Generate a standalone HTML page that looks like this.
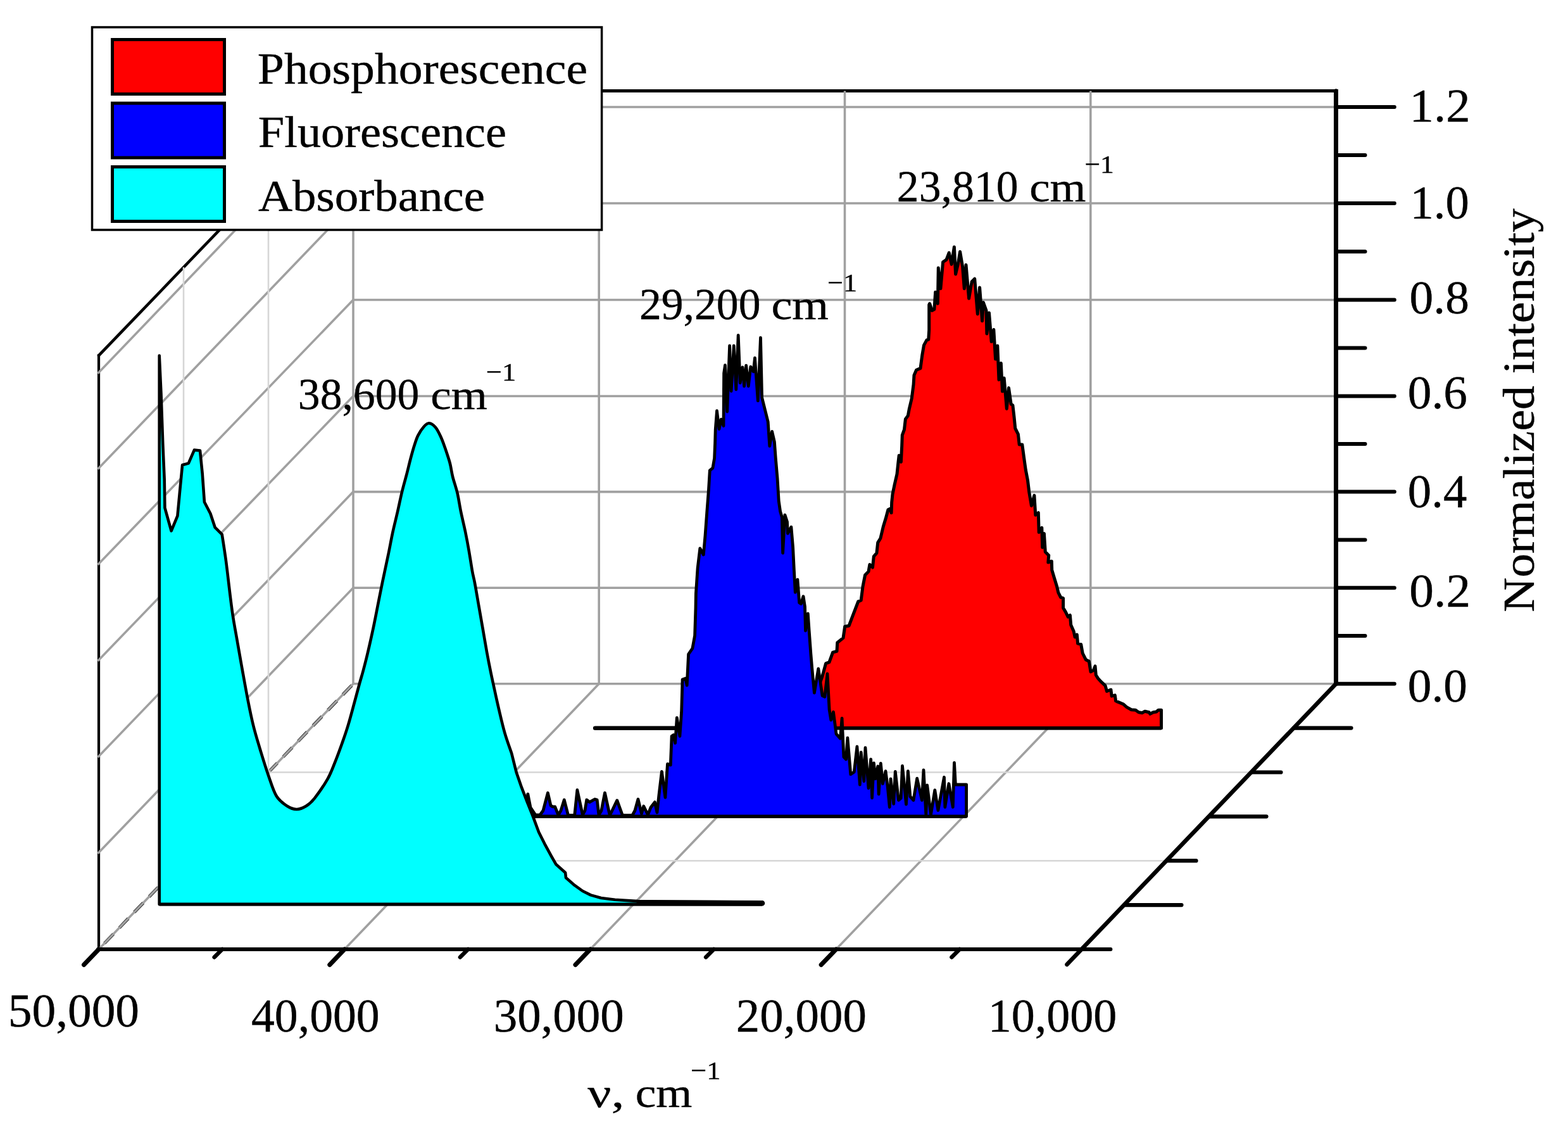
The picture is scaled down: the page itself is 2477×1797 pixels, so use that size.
<!DOCTYPE html>
<html lang="en">
<head>
<meta charset="utf-8">
<title>Absorbance, fluorescence and phosphorescence spectra</title>
<style>
html,body{margin:0;padding:0;background:#fff;}
body{width:2477px;height:1797px;overflow:hidden;}
svg{display:block;font-family:"Liberation Serif", serif;}
text{fill:#000;stroke:#000;stroke-width:0.4px;stroke-linejoin:round;}
</style>
</head>
<body>
<svg width="2477" height="1797" viewBox="0 0 2477 1797">
<rect width="2477" height="1797" fill="#fff"/>
<g id="box" fill="none">
<line x1="558" y1="143.5" x2="2114" y2="143.5" stroke="#000" stroke-width="5.0" stroke-linecap="butt"/>
<line x1="156" y1="561.4" x2="558" y2="143.5" stroke="#000" stroke-width="4.6" stroke-linecap="round"/>
<line x1="156" y1="561.4" x2="156" y2="1499" stroke="#000" stroke-width="4.2" stroke-linecap="square"/>
</g>
<g id="grid" fill="none">
<line x1="558" y1="1079.8" x2="2111" y2="1079.8" stroke="#a0a0a0" stroke-width="3.6" stroke-linecap="butt"/>
<line x1="558" y1="928.3" x2="2111" y2="928.3" stroke="#a0a0a0" stroke-width="3.6" stroke-linecap="butt"/>
<line x1="154.5" y1="1347.7" x2="558" y2="928.3" stroke="#a0a0a0" stroke-width="3.6" stroke-linecap="butt"/>
<line x1="558" y1="776.6" x2="2111" y2="776.6" stroke="#a0a0a0" stroke-width="3.6" stroke-linecap="butt"/>
<line x1="154.5" y1="1195.7" x2="558" y2="776.6" stroke="#a0a0a0" stroke-width="3.6" stroke-linecap="butt"/>
<line x1="558" y1="625.5" x2="2111" y2="625.5" stroke="#a0a0a0" stroke-width="3.6" stroke-linecap="butt"/>
<line x1="154.5" y1="1043.7" x2="558" y2="625.5" stroke="#a0a0a0" stroke-width="3.6" stroke-linecap="butt"/>
<line x1="558" y1="473.5" x2="2111" y2="473.5" stroke="#a0a0a0" stroke-width="3.6" stroke-linecap="butt"/>
<line x1="154.5" y1="891.8" x2="558" y2="473.5" stroke="#a0a0a0" stroke-width="3.6" stroke-linecap="butt"/>
<line x1="558" y1="321" x2="2111" y2="321" stroke="#a0a0a0" stroke-width="3.6" stroke-linecap="butt"/>
<line x1="154.5" y1="740.8" x2="558" y2="321" stroke="#a0a0a0" stroke-width="3.6" stroke-linecap="butt"/>
<line x1="558" y1="169" x2="2111" y2="169" stroke="#a0a0a0" stroke-width="3.6" stroke-linecap="butt"/>
<line x1="154.5" y1="589.8" x2="558" y2="169" stroke="#a0a0a0" stroke-width="3.6" stroke-linecap="butt"/>
<line x1="558" y1="143.5" x2="558" y2="1079.8" stroke="#a0a0a0" stroke-width="3.6" stroke-linecap="butt"/>
<line x1="946.2" y1="143.5" x2="946.2" y2="1079.8" stroke="#a0a0a0" stroke-width="3.6" stroke-linecap="butt"/>
<line x1="1334.5" y1="143.5" x2="1334.5" y2="1079.8" stroke="#a0a0a0" stroke-width="3.6" stroke-linecap="butt"/>
<line x1="1722.8" y1="143.5" x2="1722.8" y2="1079.8" stroke="#a0a0a0" stroke-width="3.6" stroke-linecap="butt"/>
<line x1="544.2" y1="1499" x2="946.2" y2="1079.8" stroke="#a0a0a0" stroke-width="3.6" stroke-linecap="butt"/>
<line x1="932.5" y1="1499" x2="1334.5" y2="1079.8" stroke="#a0a0a0" stroke-width="3.6" stroke-linecap="butt"/>
<line x1="1320.8" y1="1499" x2="1722.8" y2="1079.8" stroke="#a0a0a0" stroke-width="3.6" stroke-linecap="butt"/>
<line x1="156" y1="1499" x2="558" y2="1079.8" stroke="#000" stroke-width="4.9" stroke-linecap="butt" stroke-dasharray="20.5 13.5" stroke-dashoffset="-13"/>
<line x1="156" y1="1499" x2="558" y2="1079.8" stroke="#a0a0a0" stroke-width="3.6" stroke-linecap="butt"/>
<line x1="290" y1="422.1" x2="290" y2="1359.2" stroke="#d6d6d6" stroke-width="2.6" stroke-linecap="butt"/>
<line x1="290" y1="1359.2" x2="1843" y2="1359.2" stroke="#d6d6d6" stroke-width="2.6" stroke-linecap="butt"/>
<line x1="424" y1="282.8" x2="424" y2="1219.5" stroke="#d6d6d6" stroke-width="2.6" stroke-linecap="butt"/>
<line x1="424" y1="1219.5" x2="1977" y2="1219.5" stroke="#d6d6d6" stroke-width="2.6" stroke-linecap="butt"/>
</g>
<g id="axes" fill="none" stroke="#000">
<line x1="155" y1="1499" x2="1754.5" y2="1499" stroke="#000" stroke-width="5.8" stroke-linecap="round"/>
<line x1="2110.5" y1="143.8" x2="2110.5" y2="1079.8" stroke="#000" stroke-width="7.0" stroke-linecap="round"/>
<line x1="2110.5" y1="1079.8" x2="1685.5" y2="1523" stroke="#000" stroke-width="6.6" stroke-linecap="round"/>
<line x1="2111" y1="1079.8" x2="2202.8" y2="1079.8" stroke="#000" stroke-width="6.0" stroke-linecap="round"/>
<line x1="2111" y1="1004" x2="2156.5" y2="1004" stroke="#000" stroke-width="6.0" stroke-linecap="round"/>
<line x1="2111" y1="928.3" x2="2202.8" y2="928.3" stroke="#000" stroke-width="6.0" stroke-linecap="round"/>
<line x1="2111" y1="852.4" x2="2156.5" y2="852.4" stroke="#000" stroke-width="6.0" stroke-linecap="round"/>
<line x1="2111" y1="776.6" x2="2202.8" y2="776.6" stroke="#000" stroke-width="6.0" stroke-linecap="round"/>
<line x1="2111" y1="701" x2="2156.5" y2="701" stroke="#000" stroke-width="6.0" stroke-linecap="round"/>
<line x1="2111" y1="625.5" x2="2202.8" y2="625.5" stroke="#000" stroke-width="6.0" stroke-linecap="round"/>
<line x1="2111" y1="549.5" x2="2156.5" y2="549.5" stroke="#000" stroke-width="6.0" stroke-linecap="round"/>
<line x1="2111" y1="473.5" x2="2202.8" y2="473.5" stroke="#000" stroke-width="6.0" stroke-linecap="round"/>
<line x1="2111" y1="397.2" x2="2156.5" y2="397.2" stroke="#000" stroke-width="6.0" stroke-linecap="round"/>
<line x1="2111" y1="321" x2="2202.8" y2="321" stroke="#000" stroke-width="6.0" stroke-linecap="round"/>
<line x1="2111" y1="245" x2="2156.5" y2="245" stroke="#000" stroke-width="6.0" stroke-linecap="round"/>
<line x1="2111" y1="169" x2="2202.8" y2="169" stroke="#000" stroke-width="6.0" stroke-linecap="round"/>
<line x1="1776" y1="1429.1" x2="1866.5" y2="1429.1" stroke="#000" stroke-width="6.2" stroke-linecap="round"/>
<line x1="1843" y1="1359.2" x2="1889.5" y2="1359.2" stroke="#000" stroke-width="6.2" stroke-linecap="round"/>
<line x1="1910" y1="1289.3" x2="2000.5" y2="1289.3" stroke="#000" stroke-width="6.2" stroke-linecap="round"/>
<line x1="1977" y1="1219.5" x2="2023.5" y2="1219.5" stroke="#000" stroke-width="6.2" stroke-linecap="round"/>
<line x1="2044" y1="1149.6" x2="2134.5" y2="1149.6" stroke="#000" stroke-width="6.2" stroke-linecap="round"/>
<line x1="156" y1="1499" x2="132.5" y2="1523.5" stroke="#000" stroke-width="7" stroke-linecap="round"/>
<line x1="351.1" y1="1499" x2="338.6" y2="1511.5" stroke="#000" stroke-width="6.4" stroke-linecap="round"/>
<line x1="544.2" y1="1499" x2="520.8" y2="1523.5" stroke="#000" stroke-width="7" stroke-linecap="round"/>
<line x1="739.4" y1="1499" x2="726.9" y2="1511.5" stroke="#000" stroke-width="6.4" stroke-linecap="round"/>
<line x1="932.5" y1="1499" x2="909" y2="1523.5" stroke="#000" stroke-width="7" stroke-linecap="round"/>
<line x1="1127.6" y1="1499" x2="1115.1" y2="1511.5" stroke="#000" stroke-width="6.4" stroke-linecap="round"/>
<line x1="1320.8" y1="1499" x2="1297.2" y2="1523.5" stroke="#000" stroke-width="7" stroke-linecap="round"/>
<line x1="1515.9" y1="1499" x2="1503.4" y2="1511.5" stroke="#000" stroke-width="6.4" stroke-linecap="round"/>
</g>
<g id="curves">
<path d="M939.6 1149.7 L1284 1149.7 L1288 1100 L1293 1085 L1299.1 1067.6 L1304.6 1047.6 L1310 1045.7 L1315.6 1030.2 L1322 1028.4 L1322.8 1014.7 L1332 1007.4 L1334.7 989.2 L1341.1 988.2 L1346.6 973.6 L1355.7 949.9 L1360.2 948 L1363 926.2 L1366.6 907.9 L1372 902.5 L1373.9 891.5 L1378.5 896 L1380.3 878.7 L1384.9 873.3 L1386.7 856.9 L1390.9 850 L1395.3 831.5 L1399.2 818.8 L1403 804.7 L1406.2 803.4 L1408.1 809.8 L1408.7 793.2 L1410 780.5 L1413.2 765.1 L1417 748.5 L1419 729.4 L1420.2 719.2 L1423.4 729.4 L1424.7 703.8 L1425.3 687.2 L1428.5 678.3 L1430.4 661.7 L1434.3 656.6 L1436.2 646.4 L1440.3 629 L1443.1 607.1 L1444 592.5 L1447.6 584.3 L1454 581.6 L1456.7 561.5 L1459.5 545.1 L1464 536.9 L1466.8 536 L1467.7 521.4 L1467.7 481.3 L1468.6 479.4 L1472.2 490.4 L1475.9 488.6 L1477.7 461.2 L1481.4 479.4 L1482.3 422.9 L1485.9 455.7 L1489.6 413.8 L1495 410.1 L1499.2 399.2 L1503.2 417.4 L1507.4 390 L1509.6 432.9 L1513.3 417.4 L1516.6 397.4 L1520.6 421.1 L1523.3 455.7 L1526 418.3 L1530.6 471.2 L1535.2 444.8 L1539.7 440.2 L1544.3 495.9 L1547.6 453.9 L1551.6 506.8 L1553.4 477.6 L1558 490.4 L1558.9 526.9 L1562.5 494 L1566.2 539.6 L1569.8 520.5 L1572.6 567 L1575.8 546 L1578 599.8 L1581.3 573.4 L1583.5 618.1 L1586.2 597.1 L1590.3 645.4 L1593.5 612.6 L1597.2 638.1 L1599.9 640 L1602 658.2 L1603.8 676.5 L1608.4 685.6 L1610.2 702 L1614.8 702 L1617.5 722.1 L1620.3 742.1 L1623.5 758.6 L1625.7 776.8 L1629.4 798.7 L1633.9 782.3 L1635.8 813.3 L1640.3 809.6 L1641.2 840.6 L1645.8 833.3 L1646.7 864.4 L1649.4 842.5 L1651.3 871.6 L1656.7 877.1 L1655.8 888 L1661.3 886.2 L1661.7 900 L1665.5 912.8 L1669.4 925.5 L1671.9 935.8 L1675.7 943.4 L1679.6 944.7 L1679.6 960 L1683.4 966.4 L1687.2 974.1 L1690.4 971.5 L1691.7 986.8 L1696.2 997 L1698.1 1006 L1701.3 1002.1 L1702.6 1016.2 L1707.7 1017.5 L1710.2 1031.5 L1715.3 1041.7 L1720.4 1044.3 L1723 1060.9 L1727.5 1058.3 L1730 1051.9 L1731.3 1066 L1734.5 1071.1 L1739 1076.2 L1746 1082.6 L1748.5 1091.5 L1754.9 1089 L1756.2 1099.2 L1761.3 1097.9 L1762.6 1106.8 L1766 1108.4 L1774.2 1111.7 L1779.9 1116.6 L1787.3 1120.7 L1793.9 1121.2 L1798.8 1124.8 L1804.5 1125.7 L1808.6 1123.2 L1815.2 1124.8 L1816.9 1127.3 L1821.8 1124.8 L1826.7 1124 L1830 1121.2 L1834.5 1121.2 L1834.5 1149.7 Z" fill="#ff0000" stroke="#000" stroke-width="5.0" stroke-linejoin="round"/>
<line x1="940.2" y1="1149.7" x2="1290" y2="1149.7" stroke="#000" stroke-width="6.6" stroke-linecap="round"/>
<line x1="1290" y1="1149.7" x2="1834.5" y2="1149.7" stroke="#000" stroke-width="5.6" stroke-linecap="butt"/>
<path d="M830 1289.3 L833.8 1253.8 L838 1275 L846 1287 L853 1287 L858 1280 L865.4 1252 L870 1272 L873 1273.9 L876.7 1273.9 L882 1287 L886 1280 L891.3 1263 L897.6 1287.5 L907.7 1287.5 L911.9 1247.5 L920.4 1287 L924 1280 L926.8 1263 L931.4 1266.6 L939.6 1262 L943.2 1263 L946 1287 L950 1280 L955.5 1252 L963.3 1287.5 L967 1280 L974.8 1263.9 L983.4 1287.5 L998.9 1287.5 L1003 1280 L1008 1262 L1013.5 1284.8 L1016.8 1273 L1023.5 1286.7 L1028 1275 L1034.4 1266.6 L1038 1283 L1041 1255 L1045.4 1218.3 L1050.9 1259.3 L1054.5 1206.4 L1059.3 1208 L1061.1 1162.5 L1063.8 1160.6 L1066.6 1173.4 L1069.3 1133.3 L1073.9 1162.5 L1076.6 1124.2 L1078.1 1073.1 L1083 1071.3 L1085.2 1082.2 L1087.6 1033 L1093.9 1023.8 L1097.6 1003.8 L1099 960 L1099.4 937.1 L1102.1 897 L1105.8 866 L1111.3 876 L1114 845.9 L1116.7 809.4 L1119.5 773 L1121.3 742.9 L1125.9 739.2 L1128.6 723.7 L1129.6 700 L1130.2 678.8 L1132.5 648.7 L1136 677.5 L1139.2 662.2 L1143 672.4 L1143.6 589.4 L1145.5 576.6 L1148.7 650 L1152.6 546 L1155.1 617.5 L1159.3 546 L1162.8 615 L1166.2 529.4 L1169.2 604.7 L1173 579.8 L1175.6 609.8 L1178.7 577.2 L1182.3 609.8 L1185.8 579.2 L1190.2 586.8 L1192.5 565.1 L1197.3 632.8 L1201.5 533.2 L1203.6 627.7 L1206.8 640.4 L1213.2 666 L1215.8 704.3 L1219.6 681.3 L1223.4 697.9 L1225.3 723.7 L1228 754.7 L1230.2 791.2 L1232.6 807.6 L1235.3 816.7 L1236.6 873.3 L1239.9 813.1 L1243.5 824 L1244.4 842.3 L1249.9 832.2 L1252.6 864.2 L1254.4 900.6 L1256.3 935.3 L1259.9 915.2 L1262.7 951.7 L1265.4 953.5 L1269 941.7 L1271.5 958 L1272.5 996 L1276.3 969 L1278.2 996.5 L1280.9 1033 L1282.7 1054.8 L1286.4 1094.1 L1292.8 1055.8 L1299.1 1098.6 L1302.8 1100.4 L1307 1064 L1310.1 1120.5 L1312.8 1137 L1316.5 1124.2 L1321 1158.8 L1327.4 1166.1 L1330.1 1134.2 L1332.9 1195.3 L1336.5 1199 L1338.9 1165.2 L1343.8 1222.7 L1349.3 1219 L1353.9 1178.9 L1358.4 1239 L1360.2 1188 L1364.8 1233.6 L1367 1180.7 L1372 1244.5 L1375.7 1199 L1377.6 1260 L1380.4 1204.9 L1383 1229.8 L1386.8 1210 L1388.1 1254 L1391.3 1205.5 L1394.5 1237.5 L1399 1217.7 L1402.1 1241.3 L1405.3 1274.5 L1407 1229.8 L1411.7 1269.4 L1414.3 1218.3 L1419.4 1263.6 L1423.2 1260.4 L1425.5 1209.4 L1431.5 1270 L1434.4 1217.7 L1437.9 1257.9 L1443 1263.6 L1448.7 1229.2 L1456.4 1263.6 L1459 1215.8 L1462.8 1286 L1464.7 1240 L1470.5 1286 L1476.8 1247.7 L1481.9 1279.6 L1491.5 1227.3 L1492.8 1274.5 L1498.9 1237.5 L1505.3 1274.5 L1507.5 1204.3 L1509.4 1239 L1526.6 1239 L1526.6 1289.3 Z" fill="#0000ff" stroke="#000" stroke-width="4.8" stroke-linejoin="round"/>
<line x1="830" y1="1289.3" x2="1526.6" y2="1289.3" stroke="#000" stroke-width="5.4" stroke-linecap="butt"/>
<path d="M251.7 1428 L251.7 561.5 L254.5 622 L257.3 702.4 L259.7 757 L260.4 801.9 L270.6 838.4 L280.4 814.7 L284.1 775.4 L288.1 734.3 L297.8 731.6 L306.9 710.6 L316 711.5 L319.7 748 L322.9 792.8 L332.4 811 L339.7 832.9 L350.7 843.8 C351.8 850.8 354.9 870.0 357 885.8 C359.1 901.6 361.6 924.1 363.4 938.7 C365.2 953.3 366.0 960.5 368 973.3 C370.0 986.1 372.8 1000.8 375.3 1015.3 C377.8 1029.8 380.5 1045.0 383.2 1060 C385.9 1075.0 388.8 1091.3 391.6 1105.6 C394.4 1119.9 396.9 1132.6 400.2 1145.7 C403.4 1158.8 407.2 1170.9 411.1 1184 C415.1 1197.1 419.6 1212.0 423.9 1224.2 C428.2 1236.4 431.8 1249.0 436.7 1257 C441.6 1265.0 447.8 1269.0 453.1 1272.5 C458.4 1276.0 463.4 1278.0 468.6 1278 C473.8 1278.0 479.4 1275.4 484.1 1272.5 C488.8 1269.6 491.3 1267.8 496.9 1260.6 C502.5 1253.4 512.3 1239.3 517.8 1229.6 C523.3 1219.9 525.9 1211.7 529.7 1202.3 C533.5 1192.9 537.2 1182.5 540.6 1173.1 C544.0 1163.7 546.8 1155.7 549.8 1145.7 C552.8 1135.7 555.9 1124.0 558.9 1112.9 C561.9 1101.8 565.6 1088.0 568 1079.2 C570.4 1070.4 571.3 1068.3 573.5 1060 C575.7 1051.7 578.6 1040.6 581.2 1029.4 C583.9 1018.2 586.8 1005.1 589.4 993 C592.0 980.9 594.3 968.7 596.7 956.5 C599.1 944.3 601.3 933.2 604 920 C606.7 906.8 610.4 890.3 613.1 877.1 C615.8 863.9 618.0 851.9 620.4 840.6 C622.8 829.4 625.3 820.2 627.7 809.6 C630.1 799.0 632.6 786.8 635 776.8 C637.4 766.8 640.0 758.2 642.3 749.4 C644.6 740.6 646.6 731.8 648.7 723.9 C650.8 716.0 653.0 708.1 655 702 C657.0 695.9 658.1 692.1 660.5 687.4 C662.9 682.7 666.7 676.9 669.6 673.7 C672.5 670.5 674.8 668.1 677.8 668.3 C680.8 668.5 684.8 671.2 687.9 674.7 C691.0 678.2 693.7 684.0 696.1 689.2 C698.5 694.4 700.1 698.7 702.5 705.7 C704.9 712.7 708.6 723.3 710.7 731.2 C712.8 739.1 713.2 745.2 715.2 753.1 C717.2 761.0 720.4 769.5 722.5 778.6 C724.6 787.7 725.9 797.5 728 807.8 C730.1 818.1 733.2 830.3 735.3 840.6 C737.4 850.9 739.0 859.4 740.8 869.8 C742.6 880.1 744.7 894.3 746.2 902.7 C747.7 911.1 748.2 911.0 749.9 920 C751.6 929.0 754.2 944.3 756.3 956.5 C758.4 968.7 760.6 980.9 762.7 993 C764.8 1005.1 766.9 1017.9 769 1029.4 C771.1 1041.0 773.4 1052.6 775.4 1062.3 C777.4 1072.0 778.8 1078.1 780.9 1087.8 C783.0 1097.5 785.5 1109.0 788.2 1120.6 C790.9 1132.1 793.9 1145.5 797.3 1157.1 C800.6 1168.7 806.5 1184.5 808.3 1190 L815.6 1219.2 L823.8 1242.9 L832.9 1266.6 L842 1289.4 L851.1 1314 L860.3 1332.3 L871.2 1352.3 L878.5 1365.1 L893.1 1377.9 L894 1386.1 L907.7 1397.9 L920.4 1407 L933.2 1413.4 L949.6 1418 L971.5 1420.7 L1008 1423.1 L1075.5 1423.8 L1204 1424.6 L1204 1428 Z" fill="#00ffff" stroke="#000" stroke-width="4.6" stroke-linejoin="round"/>
<line x1="251.7" y1="1428" x2="1204" y2="1428" stroke="#000" stroke-width="5.2" stroke-linecap="butt"/>
<line x1="1010" y1="1425.6" x2="1204" y2="1426.2" stroke="#000" stroke-width="8.6" stroke-linecap="round"/>
</g>
<g id="labels">
<text><tspan x="470.81" y="646.4" font-size="70" textLength="191.57" lengthAdjust="spacingAndGlyphs">38,600</tspan> <tspan x="680.28" y="646.4" font-size="66" textLength="89.64" lengthAdjust="spacingAndGlyphs">cm</tspan> <tspan x="767.83" y="600.9" font-size="41" textLength="47.43" lengthAdjust="spacingAndGlyphs">−1</tspan></text>
<text><tspan x="1009.91" y="504.4" font-size="70" textLength="191.57" lengthAdjust="spacingAndGlyphs">29,200</tspan> <tspan x="1218.45" y="504.4" font-size="66" textLength="90.57" lengthAdjust="spacingAndGlyphs">cm</tspan> <tspan x="1307.05" y="460.3" font-size="41" textLength="46.98" lengthAdjust="spacingAndGlyphs">−1</tspan></text>
<text><tspan x="1416.81" y="317.6" font-size="70" textLength="191.68" lengthAdjust="spacingAndGlyphs">23,810</tspan> <tspan x="1626.18" y="317.6" font-size="66" textLength="89.32" lengthAdjust="spacingAndGlyphs">cm</tspan> <tspan x="1713.58" y="272.6" font-size="41" textLength="46.31" lengthAdjust="spacingAndGlyphs">−1</tspan></text>
<text><tspan x="12.83" y="1621.4" font-size="74" textLength="207.22" lengthAdjust="spacingAndGlyphs">50,000</tspan></text>
<text><tspan x="397.00" y="1628.6" font-size="74" textLength="202.69" lengthAdjust="spacingAndGlyphs">40,000</tspan></text>
<text><tspan x="779.65" y="1628.6" font-size="74" textLength="206.19" lengthAdjust="spacingAndGlyphs">30,000</tspan></text>
<text><tspan x="1162.86" y="1628.6" font-size="74" textLength="205.97" lengthAdjust="spacingAndGlyphs">20,000</tspan></text>
<text><tspan x="1560.69" y="1629.4" font-size="74" textLength="203.71" lengthAdjust="spacingAndGlyphs">10,000</tspan></text>
<text><tspan x="2226.57" y="192.2" font-size="74" textLength="96.00" lengthAdjust="spacingAndGlyphs">1.2</tspan></text>
<text><tspan x="2227.44" y="344.8" font-size="74" textLength="93.49" lengthAdjust="spacingAndGlyphs">1.0</tspan></text>
<text><tspan x="2226.64" y="495.0" font-size="74" textLength="94.31" lengthAdjust="spacingAndGlyphs">0.8</tspan></text>
<text><tspan x="2223.84" y="645.4" font-size="74" textLength="94.20" lengthAdjust="spacingAndGlyphs">0.6</tspan></text>
<text><tspan x="2223.87" y="800.7" font-size="74" textLength="93.45" lengthAdjust="spacingAndGlyphs">0.4</tspan></text>
<text><tspan x="2226.36" y="958.0" font-size="74" textLength="96.74" lengthAdjust="spacingAndGlyphs">0.2</tspan></text>
<text><tspan x="2223.84" y="1108.0" font-size="74" textLength="94.20" lengthAdjust="spacingAndGlyphs">0.0</tspan></text>
<text><tspan x="928.30" y="1748.3" font-size="66" textLength="58.04" lengthAdjust="spacingAndGlyphs">ν,</tspan> <tspan x="1003.68" y="1748.3" font-size="66" textLength="89.64" lengthAdjust="spacingAndGlyphs">cm</tspan> <tspan x="1091.03" y="1703.8" font-size="41" textLength="47.43" lengthAdjust="spacingAndGlyphs">−1</tspan></text>
<text transform="translate(2422.7 966.77) rotate(-90) scale(1.0828 1)" font-size="70">Normalized intensity</text>
</g>
<g id="legend">
<rect x="145.5" y="43" width="805.1" height="320" fill="#fff" stroke="#000" stroke-width="3.5"/>
<rect x="177.5" y="62.5" width="177" height="86" fill="#ff0000" stroke="#000" stroke-width="5"/>
<rect x="177.5" y="163.0" width="177" height="86" fill="#0000ff" stroke="#000" stroke-width="5"/>
<rect x="177.5" y="263.5" width="177" height="86" fill="#00ffff" stroke="#000" stroke-width="5"/>
<text><tspan x="406.84" y="132.2" font-size="70" textLength="521.21" lengthAdjust="spacingAndGlyphs">Phosphorescence</tspan></text>
<text><tspan x="407.88" y="232.4" font-size="70" textLength="392.25" lengthAdjust="spacingAndGlyphs">Fluorescence</tspan></text>
<text><tspan x="407.93" y="332.9" font-size="70" textLength="358.05" lengthAdjust="spacingAndGlyphs">Absorbance</tspan></text>
</g>
</svg>
</body>
</html>
